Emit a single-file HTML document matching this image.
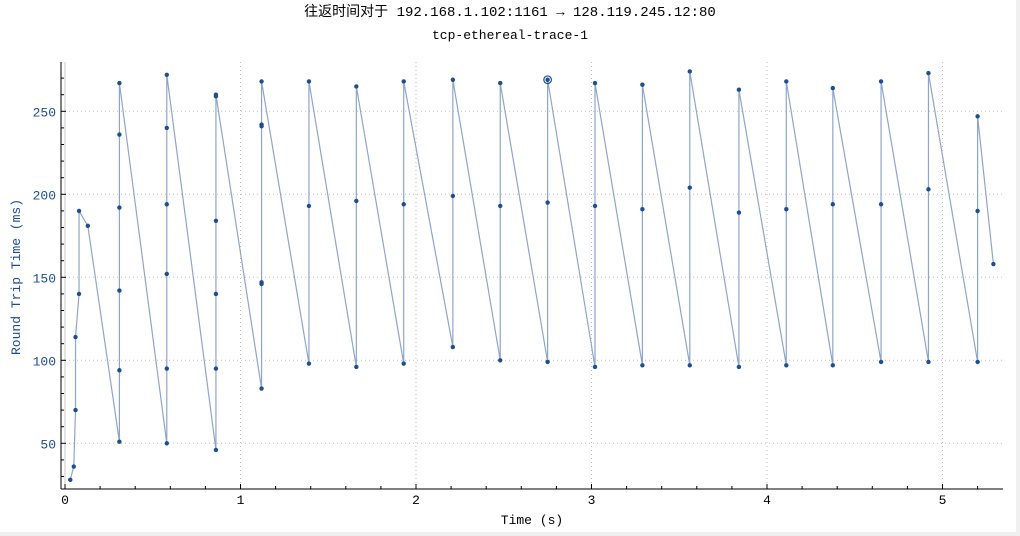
<!DOCTYPE html>
<html><head><meta charset="utf-8"><style>
body{margin:0;background:#f0f0f0}
#wrap{position:relative;width:1016px;height:532px;background:#fff}
svg{position:absolute;left:0;top:0}
text{font-family:"Liberation Mono","Noto Sans CJK SC",monospace}
</style></head><body>
<div id="wrap">
<svg id="c" width="1020" height="536">
<text x="510" y="16" text-anchor="middle" font-size="14" fill="#000">往返时间对于 192.168.1.102:1161 → 128.119.245.12:80</text>
<text x="510" y="39" text-anchor="middle" font-size="13" fill="#000">tcp-ethereal-trace-1</text>
<text x="532" y="524" text-anchor="middle" font-size="13" fill="#000">Time (s)</text>
<text transform="translate(20,277) rotate(-90)" text-anchor="middle" font-size="13" fill="#1f4b8c">Round Trip Time (ms)</text>
</svg></div>
<script>
const times=[0.03,0.05,0.06,0.06,0.08,0.08,0.13,
0.31,0.31,0.31,0.31,0.31,0.31,
0.58,0.58,0.58,0.58,0.58,0.58,
0.86,0.86,0.86,0.86,0.86,0.86,
1.12,1.12,1.12,1.12,1.12,1.12,
1.39,1.39,1.39,1.66,1.66,1.66,1.93,1.93,1.93,2.21,2.21,2.21,2.48,2.48,2.48,2.75,2.75,2.75,
3.02,3.02,3.02,3.29,3.29,3.29,3.56,3.56,3.56,3.84,3.84,3.84,4.11,4.11,4.11,4.375,4.375,4.375,
4.65,4.65,4.65,4.92,4.92,4.92,5.20,5.20,5.20,5.29];
const rtt=[28,36,70,114,140,190,181,
51,94,142,192,236,267,
50,95,152,194,240,272,
46,95,140,184,259,260,
83,146,147,241,242,268,
98,193,268,96,196,265,98,194,268,108,199,269,100,193,267,99,195,269,
96,193,267,97,191,266,97,204,274,96,189,263,97,191,268,97,194,264,
99,194,268,99,203,273,99,190,247,158];
const xTicks=[0,1,2,3,4,5];
const yTicks=[50,100,150,200,250];
const highlightIndex=48;
const X=t=>65+t*175.5, Y=v=>443.3-(v-50)*1.66;
const L=61,R=1003,T=62,B=489;
const s=document.getElementById('c'),NS='http://www.w3.org/2000/svg';
function mk(tag,a,name){const e=document.createElementNS(NS,tag);for(const k in a)e.setAttribute(k,a[k]);


s.appendChild(e);return e;}
xTicks.forEach(t=>{if(t>0)mk('line',{x1:X(t),x2:X(t),y1:T,y2:B,stroke:'#c0c0c0','stroke-dasharray':'1,3'},'x-grid-line');});
yTicks.forEach(v=>mk('line',{x1:L,x2:R,y1:Y(v),y2:Y(v),stroke:'#c0c0c0','stroke-dasharray':'1,3'},'y-grid-line'));
mk('line',{x1:X(0),x2:X(0),y1:T,y2:B,stroke:'#c8c8c8'},'zero-line');
mk('line',{x1:L,x2:R,y1:B,y2:B,stroke:'#000'},'x-axis-line');
mk('line',{x1:L,x2:L,y1:T,y2:B,stroke:'#000'},'y-axis-line');
for(let t=0;t<=5.3;t+=0.2){const big=Math.abs(t-Math.round(t))<1e-6;mk('line',{x1:X(t),x2:X(t),y1:B,y2:B-(big?5:3),stroke:'#000'},'x-tick');}
xTicks.forEach(t=>{const e=mk('text',{x:X(t),y:B+15,'text-anchor':'middle','font-size':13,fill:'#000'},'x-tick-label');e.textContent=t;});
for(let v=30;v<=270;v+=10){const big=v%50==0;mk('line',{x1:L,x2:L+(big?5:3),y1:Y(v),y2:Y(v),stroke:'#000'},'y-tick');}
yTicks.forEach(v=>{const e=mk('text',{x:L-5,y:Y(v)+5,'text-anchor':'end','font-size':13,fill:'#1f4b8c'},'y-tick-label');e.textContent=v;});
mk('polyline',{points:times.map((t,i)=>X(t)+','+Y(rtt[i])).join(' '),fill:'none',stroke:'#8fa5c8','stroke-width':1.2},'rtt-line');
times.forEach((t,i)=>mk('circle',{cx:X(t),cy:Y(rtt[i]),r:2.2,fill:'#1f4e8c'},'rtt-point'));
mk('circle',{cx:X(times[highlightIndex]),cy:Y(rtt[highlightIndex]),r:3.8,fill:'none',stroke:'#1f4e8c','stroke-width':1.2},'highlight-marker');
</script>
</body></html>
